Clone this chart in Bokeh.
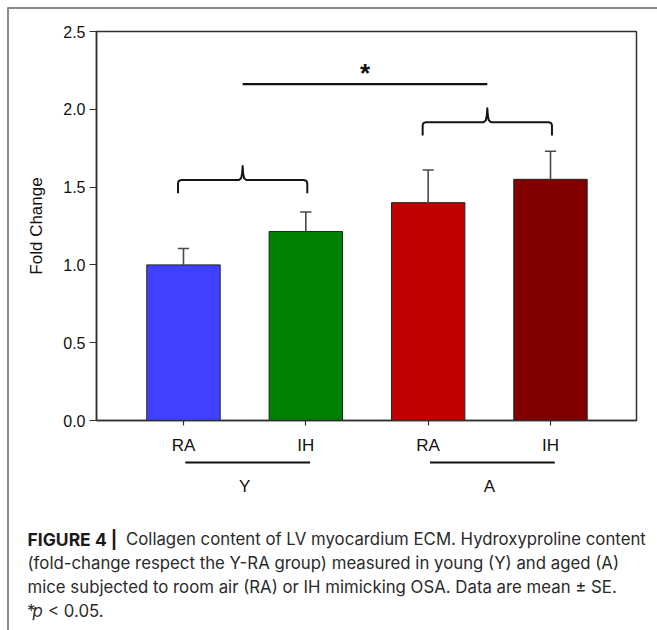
from bokeh.plotting import figure
from bokeh.models import Range1d, FixedTicker, NumeralTickFormatter
from bokeh.core.properties import value
from bokeh.embed import file_html
from bokeh.resources import INLINE

# ---------------- data ----------------
positions = [1, 2, 3, 4]
conditions = ["RA", "IH", "RA", "IH"]
fold_change = [1.00, 1.215, 1.40, 1.55]
se = [0.105, 0.125, 0.21, 0.18]
bar_colors = ["#4040FF", "#008000", "#C00000", "#800000"]
y_ticks = [0.0, 0.5, 1.0, 1.5, 2.0, 2.5]
groups = ["Y", "A"]
group_members = [(0, 1), (2, 3)]
bracket_levels = [1.545, 1.917]
star_level = 2.162
star_text = "*"
axis_title = "Fold Change"
caption_bold = "FIGURE 4 |"
caption_lines = [
    "Collagen content of LV myocardium ECM. Hydroxyproline content",
    "(fold-change respect the Y-RA group) measured in young (Y) and aged (A)",
    "mice subjected to room air (RA) or IH mimicking OSA. Data are mean \u00b1 SE.",
]
caption_last = ["*", "p", "< 0.05."]

# ---------------- layout ----------------
FIG_W, FIG_H = 657, 630
L, R, T, B = 96, 636, 31, 420
X0, X1 = 0.289, 4.703
Y0, Y1 = 0.0, 2.5
PX_Y = (Y1 - Y0) / (B - T)
PX_X = (X1 - X0) / (R - L)


def dx(img_x):
    return X0 + (img_x - L) * PX_X


def dy(img_y):
    return Y0 + (B - img_y) * PX_Y


p = figure(width=FIG_W, height=FIG_H, x_range=Range1d(X0, X1), y_range=Range1d(Y0, Y1),
           output_backend="svg", toolbar_location=None,
           min_border_left=L, min_border_right=FIG_W - R,
           min_border_top=T, min_border_bottom=FIG_H - B)
p.xgrid.visible = False
p.ygrid.visible = False
p.outline_line_color = "#303030"
p.outline_line_width = 1.5
p.background_fill_color = "white"
p.border_fill_color = "white"

CHART_FONT = "Liberation Sans"

# y axis
p.yaxis.ticker = FixedTicker(ticks=y_ticks)
p.yaxis.formatter = NumeralTickFormatter(format="0.0")
p.yaxis.major_tick_out = 7
p.yaxis.major_tick_in = 0
p.yaxis.minor_tick_line_color = None
p.yaxis.major_label_standoff = 4
p.yaxis.axis_label = axis_title
p.yaxis.axis_label_text_font = CHART_FONT
p.yaxis.axis_label_text_font_size = "17px"
p.yaxis.axis_label_text_font_style = "normal"
p.yaxis.axis_label_text_color = "#111111"
p.yaxis.axis_label_standoff = 14

# x axis
p.xaxis.ticker = FixedTicker(ticks=positions)
p.xaxis.major_label_overrides = {pos: c for pos, c in zip(positions, conditions)}
p.xaxis.major_tick_out = 5
p.xaxis.major_tick_in = 0
p.xaxis.minor_tick_line_color = None
p.xaxis.major_label_standoff = 10

for ax in (p.xaxis, p.yaxis):
    ax.axis_line_color = "#303030"
    ax.axis_line_width = 1.5
    ax.major_tick_line_color = "#303030"
    ax.major_tick_line_width = 1.2
    ax.major_label_text_font = CHART_FONT
    ax.major_label_text_font_size = "16px"
    ax.major_label_text_color = "#111111"
p.xaxis.major_label_text_font_size = "17px"

# bars
p.vbar(x=positions, top=fold_change, width=0.6, bottom=0,
       fill_color=bar_colors, line_color="#222222", line_width=1)

# error bars (upper only)
tops = [v + e for v, e in zip(fold_change, se)]
p.segment(x0=positions, y0=fold_change, x1=positions, y1=tops,
          line_color="#4a4a4a", line_width=1.6)
cap = 0.046
p.segment(x0=[x - cap for x in positions], y0=tops, x1=[x + cap for x in positions], y1=tops,
          line_color="#4a4a4a", line_width=1.6)

# curly brackets
xs_list, ys_list, peaks = [], [], []
for (a, b), h in zip(group_members, bracket_levels):
    xa = positions[a] - 0.045
    xb = positions[b] + 0.012
    xm = (xa + xb) / 2
    drop = 0.085
    spike = 0.09
    r = 0.02
    xs = [xa, xa, xa + 0.006, xa + 0.025,
          xm - 0.03, xm - 0.012, xm - 0.004, xm,
          xm + 0.004, xm + 0.012, xm + 0.03,
          xb - 0.025, xb - 0.006, xb, xb]
    ys = [h - drop, h - r, h - 0.006, h,
          h, h + 0.012, h + 0.045, h + spike,
          h + 0.045, h + 0.012, h,
          h, h - 0.006, h - r, h - drop]
    xs_list.append(xs)
    ys_list.append(ys)
    peaks.append(xm)
p.multi_line(xs=xs_list, ys=ys_list, line_color="#151515", line_width=2, line_join="round")

# significance line and star
p.segment(x0=[peaks[0]], y0=[star_level], x1=[peaks[1]], y1=[star_level],
          line_color="#111111", line_width=2.2)
p.text(x=[(peaks[0] + peaks[1]) / 2], y=[star_level + 0.07], text=[star_text],
       text_font=value(CHART_FONT), text_font_style="bold", text_font_size="26px",
       text_align="center", text_baseline="alphabetic", text_color="#111111")

# ---------- elements outside the frame (overlay level, not clipped) ----------
def overlay(r):
    r.level = "overlay"
    return r


# group lines and labels below the axis
gy = dy(462)
overlay(p.segment(x0=[positions[a] + 0.015 for a, b in group_members], y0=[gy] * len(groups),
                  x1=[positions[b] + 0.035 for a, b in group_members], y1=[gy] * len(groups),
                  line_color="#111111", line_width=2.2))
overlay(p.text(x=[(positions[a] + positions[b]) / 2 for a, b in group_members],
               y=[dy(486)] * len(groups), text=groups,
               text_font=value(CHART_FONT), text_font_size="17px", text_color="#111111",
               text_align="center", text_baseline="alphabetic"))

# outer border (top and left)
overlay(p.segment(x0=[dx(7.5), dx(7)], y0=[dy(7), dy(7.5)], x1=[dx(7.5), dx(700)],
                  y1=[dy(640), dy(7.5)], line_color="#8a8a8a", line_width=2))

# caption
CAP_FONT = value("Inter")
CAP_SIZE = "16.8px"
CAP_COLOR = "#2a2a2a"
base = [538.5, 562.5, 586.5, 610.5]
overlay(p.text(x=[dx(27)], y=[dy(base[0])], text=[caption_bold], text_font=CAP_FONT,
               text_font_size="17.5px", text_font_style="bold", text_color="#1a1a1a",
               text_baseline="alphabetic"))
overlay(p.text(x=[dx(125.5), dx(27), dx(27)], y=[dy(base[0]), dy(base[1]), dy(base[2])],
               text=caption_lines, text_font=CAP_FONT,
               text_font_size=CAP_SIZE, text_color=CAP_COLOR, text_baseline="alphabetic"))
for txt, xx, style in zip(caption_last, [26.5, 32, 47.5], ["normal", "italic", "normal"]):
    overlay(p.text(x=[dx(xx)], y=[dy(base[3])], text=[txt], text_font=CAP_FONT,
                   text_font_size=CAP_SIZE, text_font_style=style, text_color=CAP_COLOR,
                   text_baseline="alphabetic"))

open("out.html", "w").write(file_html(p, INLINE))
